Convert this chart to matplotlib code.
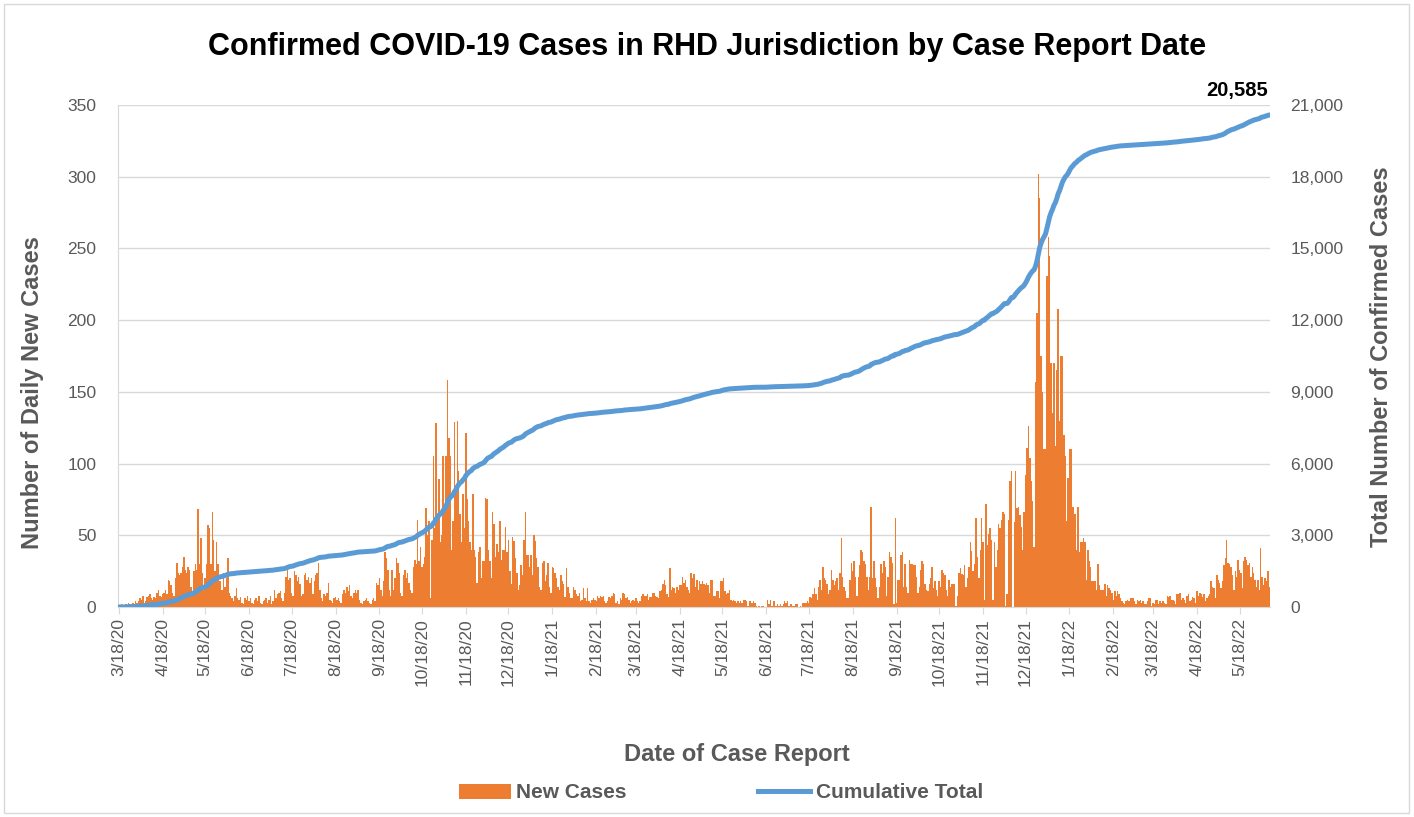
import numpy as np
import pandas as pd
import matplotlib
matplotlib.use("Agg")
import matplotlib.pyplot as plt
from matplotlib.patches import Patch, Rectangle
from matplotlib.lines import Line2D
from matplotlib.ticker import FuncFormatter

# =============================================================================
# Data: daily new cases by case report date
# =============================================================================

start_date = "2020-03-18"

new_cases_2020 = (
    [1, 0, 2, 1, 0, 2, 1, 3, 2, 2, 3, 1, 4, 3]  # Mar 18-31
    + [4, 6, 5, 8, 3, 4, 7, 8, 9, 6, 5, 7, 6, 10, 12, 8, 7, 9, 10, 12,
       9, 19, 18, 15, 10, 8, 20, 31, 24, 22]  # Apr
    + [24, 28, 35, 26, 24, 28, 26, 14, 10, 25, 30, 26, 68, 30, 48, 24,
       12, 20, 30, 57, 55, 30, 66, 47, 25, 45, 30, 18, 18, 12, 24]  # May
    + [14, 20, 34, 10, 8, 6, 4, 8, 13, 6, 5, 7, 3, 2, 6, 5, 8, 4, 6, 3,
       2, 5, 6, 4, 8, 3, 2, 4, 5, 6]  # Jun
    + [3, 5, 8, 2, 4, 12, 6, 9, 10, 11, 6, 4, 10, 21, 26, 19, 20, 10, 8,
       25, 22, 18, 21, 16, 8, 9, 22, 24, 19, 21, 17]  # Jul
    + [20, 9, 18, 22, 24, 31, 12, 6, 4, 9, 8, 10, 17, 5, 4, 3, 6, 7, 5,
       6, 4, 3, 9, 12, 10, 14, 11, 15, 8, 6, 10]  # Aug
    + [12, 10, 12, 5, 3, 2, 4, 5, 6, 4, 3, 2, 5, 6, 4, 17, 15, 20, 12,
       8, 18, 38, 34, 26, 12, 8, 26, 12, 20, 34]  # Sep
    + [31, 24, 10, 8, 22, 26, 20, 24, 17, 12, 10, 28, 33, 30, 61, 32, 42,
       28, 30, 35, 69, 50, 60, 6, 47, 105, 55, 128, 65, 89, 45]  # Oct
    + [50, 105, 70, 105, 158, 118, 105, 40, 60, 129, 80, 130, 95, 65, 45,
       79, 55, 121, 75, 60, 45, 40, 79, 40, 35, 17, 38, 42, 20, 32]  # Nov
    + [32, 76, 75, 40, 32, 20, 66, 58, 35, 44, 38, 60, 33, 40, 40, 56, 38,
       47, 25, 16, 49, 46, 34, 24, 12, 15, 29, 22, 47, 66, 36]  # Dec
)

new_cases_2021 = (
    [36, 28, 36, 22, 50, 46, 34, 28, 14, 12, 31, 32, 18, 22, 31, 14, 10,
     28, 27, 24, 20, 14, 12, 22, 18, 16, 7, 27, 14, 10, 6]  # Jan
    + [6, 14, 12, 9, 8, 10, 4, 5, 13, 6, 4, 13, 4, 3, 5, 6, 5, 4, 8, 6,
       8, 7, 8, 4, 3, 4, 7, 6]  # Feb
    + [8, 10, 9, 3, 4, 2, 6, 5, 10, 9, 6, 7, 5, 3, 4, 5, 4, 6, 4, 3, 4,
       8, 9, 8, 8, 9, 5, 7, 7, 10, 10]  # Mar
    + [8, 7, 6, 11, 12, 16, 19, 15, 9, 7, 27, 12, 14, 13, 10, 14, 12, 15,
       15, 21, 17, 19, 14, 12, 10, 24, 20, 23, 14, 19]  # Apr
    + [12, 18, 16, 18, 16, 15, 17, 15, 10, 19, 19, 8, 8, 11, 11, 6, 18,
       18, 20, 11, 9, 10, 12, 5, 4, 5, 4, 3, 4, 3, 4]  # May
    + [3, 5, 5, 4, 1, 4, 4, 3, 4, 3, 1, 0, 1, 0, 1, 1, 0, 0, 5, 2, 5, 1,
       4, 4, 1, 2, 1, 2, 1, 2]  # Jun
    + [4, 3, 4, 1, 2, 2, 1, 1, 2, 2, 0, 1, 0, 3, 3, 3, 4, 3, 7, 6, 9, 13,
       9, 5, 14, 19, 12, 28, 20, 19, 16]  # Jul
    + [9, 12, 26, 19, 15, 18, 20, 12, 24, 48, 21, 14, 11, 6, 6, 19, 31,
       25, 32, 21, 8, 21, 29, 40, 38, 32, 30, 21, 12, 21, 70]  # Aug
    + [20, 32, 20, 14, 6, 14, 30, 24, 32, 28, 8, 21, 38, 35, 31, 2, 62, 3,
       19, 19, 36, 38, 14, 30, 14, 10, 33, 30, 30, 29]  # Sep
    + [29, 21, 10, 14, 26, 32, 30, 16, 12, 11, 16, 20, 28, 13, 18, 12, 8,
       18, 14, 26, 24, 22, 12, 8, 19, 14, 16, 16, 16, 1, 8]  # Oct
    + [24, 27, 23, 22, 29, 14, 20, 28, 45, 39, 25, 30, 62, 35, 20, 40, 62,
       45, 5, 72, 43, 51, 55, 47, 5, 45, 28, 40, 58, 55]  # Nov
    + [61, 66, 65, 1, 9, 61, 88, 95, 0, 59, 95, 69, 70, 64, 56, 40, 66,
       92, 111, 126, 104, 88, 74, 42, 157, 205, 302, 285, 175, 150, 110]  # Dec
)

new_cases_2022 = (
    [110, 231, 258, 245, 170, 135, 170, 112, 165, 208, 130, 175, 175, 120,
     105, 60, 90, 110, 110, 70, 70, 65, 40, 70, 38, 45, 45, 48, 45, 19, 40]  # Jan
    + [32, 28, 18, 18, 18, 12, 30, 15, 12, 12, 12, 16, 8, 15, 13, 12, 10,
       5, 11, 8, 11, 9, 6, 4, 3, 2, 4, 5]  # Feb
    + [4, 6, 6, 6, 4, 2, 5, 4, 5, 3, 4, 2, 2, 4, 6, 6, 1, 3, 2, 5, 5, 2,
       4, 3, 4, 3, 2, 8, 7, 8, 5]  # Mar
    + [5, 4, 2, 9, 9, 10, 5, 6, 5, 3, 8, 9, 4, 5, 7, 6, 3, 11, 8, 10, 9,
       7, 9, 4, 6, 8, 9, 18, 14, 13]  # Apr
    + [6, 22, 19, 17, 13, 18, 29, 34, 47, 31, 30, 28, 22, 12, 25, 21, 33,
       26, 24, 13, 32, 35, 33, 29, 31, 21, 28, 24, 19, 14, 19]  # May
    + [12, 41, 21, 15, 20, 18, 25, 14]  # Jun 1-8
)

new_cases = np.array(new_cases_2020 + new_cases_2021 + new_cases_2022)
dates = pd.date_range(start_date, periods=len(new_cases), freq="D")
cumulative = np.cumsum(new_cases)

tick_dates = [pd.Timestamp(start_date) + pd.DateOffset(months=i) for i in range(27)]
tick_labels = [f"{d.month}/{d.day}/{d.strftime('%y')}" for d in tick_dates]

# =============================================================================
# Style
# =============================================================================

BAR_COLOR = "#ED7D31"
LINE_COLOR = "#5B9BD5"
TEXT_GRAY = "#595959"
GRID_GRAY = "#D9D9D9"
plt.rcParams["font.family"] = ["Liberation Sans", "DejaVu Sans"]

# =============================================================================
# Figure
# =============================================================================

fig = plt.figure(figsize=(14.14, 8.17), dpi=100)
ax = fig.add_axes([118 / 1414, 1 - 607 / 817, (1270 - 118) / 1414, (607 - 105) / 817])
ax2 = ax.twinx()

ax.bar(dates, new_cases, width=1.0, color=BAR_COLOR, linewidth=0, zorder=2)
ax2.plot(dates, cumulative, color=LINE_COLOR, linewidth=3.6, solid_capstyle="round")

ax.set_ylim(0, 350)
ax.set_yticks(np.arange(0, 351, 50))
ax2.set_ylim(0, 21000)
ax2.set_yticks(np.arange(0, 21001, 3000))
ax2.yaxis.set_major_formatter(FuncFormatter(lambda v, _: f"{int(v):,}"))

ax.set_xlim(dates[0] - pd.Timedelta(hours=12), dates[-1] + pd.Timedelta(hours=12))
ax.set_xticks(tick_dates)
ax.set_xticklabels(tick_labels, rotation=90, fontsize=12.5, color=TEXT_GRAY)

ax.grid(axis="y", color=GRID_GRAY, linewidth=1.0)
ax.set_axisbelow(True)

for a in (ax, ax2):
    for side in ("top", "right", "left", "bottom"):
        a.spines[side].set_visible(False)
ax.spines["left"].set_visible(True)
ax.spines["left"].set_color(GRID_GRAY)
ax.spines["bottom"].set_visible(True)
ax.spines["bottom"].set_color(GRID_GRAY)

ax.tick_params(axis="x", length=5, color=GRID_GRAY, pad=3)
ax.tick_params(axis="y", length=0, pad=15.5, labelsize=12.5, labelcolor=TEXT_GRAY)
ax2.tick_params(axis="y", length=0, pad=14.5, labelsize=12.5, labelcolor=TEXT_GRAY)

fig.text(33 / 1414, 1 - 393 / 817, "Number of Daily New Cases", rotation=90,
         ha="center", va="center", fontsize=17, fontweight="bold", color=TEXT_GRAY)
fig.text(1381 / 1414, 1 - 357 / 817, "Total Number of Confirmed Cases", rotation=90,
         ha="center", va="center", fontsize=17, fontweight="bold", color=TEXT_GRAY)
fig.text(737 / 1414, 1 - 754 / 817, "Date of Case Report", ha="center", va="center",
         fontsize=17, fontweight="bold", color=TEXT_GRAY)

fig.text(0.5, 1 - 47 / 817, "Confirmed COVID-19 Cases in RHD Jurisdiction by Case Report Date",
         ha="center", va="center", fontsize=22, fontweight="bold", color="black")

ax2.annotate(f"{cumulative[-1]:,}", xy=(dates[-1], cumulative[-1]),
             xytext=(-1, 11), textcoords="offset points", ha="right", va="bottom",
             fontsize=14.5, fontweight="bold", color="black")

legend_handles = [
    Patch(facecolor=BAR_COLOR, edgecolor="none", label="New Cases"),
    Line2D([0], [0], color=LINE_COLOR, linewidth=3.6, label="Cumulative Total"),
]
leg = fig.legend(handles=legend_handles, loc="center", bbox_to_anchor=(721 / 1414, 1 - 793 / 817),
                 ncol=2, frameon=False, handlelength=2.5, handleheight=0.7,
                 columnspacing=6.3, handletextpad=0.25,
                 prop={"family": "Liberation Sans", "weight": "bold", "size": 15})
for t in leg.get_texts():
    t.set_color(TEXT_GRAY)

fig.patches.append(Rectangle((4 / 1414, 4 / 817), 1405 / 1414, 809 / 817,
                             transform=fig.transFigure, fill=False,
                             edgecolor=GRID_GRAY, linewidth=1.0))

fig.savefig("out.png", dpi=100)
